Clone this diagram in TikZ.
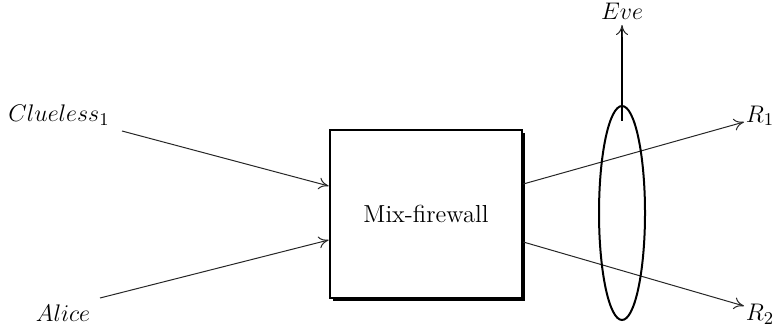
\documentclass[tikz,border=0pt]{standalone}
\usetikzlibrary{shapes.geometric,arrows.meta}
\begin{document}
\begin{tikzpicture}[x=0.5pt,y=-0.5pt,
  lbl/.style={font=\fontsize{12.5}{14}\selectfont, inner sep=0pt},
  flow/.style={draw=black!85, line width=0.5pt, -{To[length=5pt,width=6pt]}},
  mixbox/.style={draw, line width=1.3pt, fill=white, minimum width=96pt, minimum height=84pt,
    font=\fontsize{12.3}{14}\selectfont},
  tap/.style={draw, ellipse, line width=1pt, minimum width=23pt, minimum height=107pt, inner sep=0pt}]
\useasboundingbox (0,0) rectangle (779,330);

% mix box with its offset shadow
\fill (333,133) rectangle (525,301);
\node[mixbox] (mix) at (426,214) {Mix-firewall};

% senders
\node[lbl] (clueless) at (59,115) {$Clueless_1$};
\node[lbl] (alice) at (63,313) {$Alice$};
\coordinate (cs) at (122,131);
\coordinate (as) at (100,298);
\draw[flow] (cs) -- ([yshift=14pt]mix.west);
\draw[flow] (as) -- ([yshift=-13pt]mix.west);

% receivers
\node[lbl] (r1) at (760,116) {$R_1$};
\node[lbl] (r2) at (760,314) {$R_2$};
\coordinate (r1t) at (744,122);
\coordinate (r2t) at (744,306);
\draw[flow] ([yshift=15pt]mix.east) -- (r1t);
\draw[flow] ([yshift=-14pt]mix.east) -- (r2t);

% eavesdropper tapping the outgoing links
\node[tap] (tap) at (622,213) {};
\node[lbl] (eve) at (622,11) {$Eve$};
\coordinate (evet) at (622,25);
\draw[line width=0.8pt] ([yshift=-8pt]tap.north) -- ([yshift=-2pt]evet);
\draw[flow] ([yshift=-6pt]evet) -- (evet);
\end{tikzpicture}
\end{document}
